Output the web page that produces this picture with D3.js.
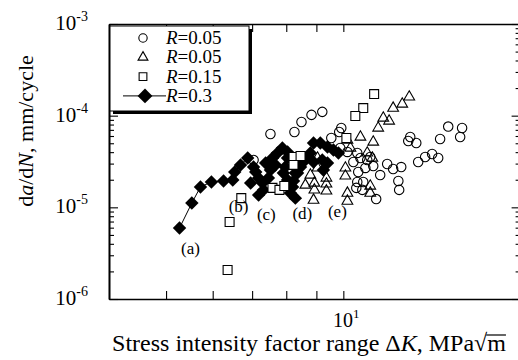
<!DOCTYPE html>
<html>
<head>
<meta charset="utf-8">
<script src="https://d3js.org/d3.v7.min.js"></script>
<style>
  body { margin: 0; background: #fff; }
  svg { display: block; }
  text { font-family: "Liberation Serif", "Times New Roman", serif; fill: #000; }
</style>
</head>
<body>
<script>
// R=0.05 (circles)
const circleK = [7.04, 7.52, 8.26, 8.49, 8.83, 9.21, 9.92, 9.84, 9.54, 9.88, 10.16, 10.56, 10.69, 10.40, 10.90,
  11.11, 10.60, 10.52, 10.56, 10.98, 11.24, 11.55, 11.87, 12.15, 12.54, 12.40, 12.44, 11.37, 10.77, 10.81,
  12.99, 12.89, 13.30, 15.07, 15.91, 15.79, 14.60, 13.40, 13.77, 14.15, 14.49];
const circleRate = [3.28e-5, 6.31e-5, 6.64e-5, 8.53e-5, 1.02e-4, 1.10e-4, 7.34e-5, 6.64e-5, 5.71e-5, 4.44e-5, 4.02e-5, 3.92e-5, 3.45e-5, 3.12e-5, 2.69e-5,
  3.54e-5, 2.43e-5, 1.63e-5, 1.89e-5, 3.28e-5, 2.82e-5, 2.25e-5, 2.97e-5, 2.62e-5, 2.75e-5, 1.94e-5, 1.55e-5, 1.23e-5, 1.55e-5, 1.89e-5,
  5.85e-5, 5.29e-5, 5.03e-5, 7.6e-5, 7.34e-5, 5.85e-5, 5.57e-5, 3.12e-5, 3.54e-5, 3.82e-5, 3.45e-5];

// R=0.05 (triangles)
const triK = [12.94, 12.59, 12.15, 11.69, 11.96, 11.46, 11.24, 10.69, 10.98, 11.20, 10.16, 10.08, 10.08, 10.28,
  9.04, 9.04, 8.79, 8.62, 8.93, 8.93, 8.90, 9.36, 9.36, 9.36, 10.16, 10.16, 11.11, 11.11];
const triRate = [1.60e-4, 1.34e-4, 1.21e-4, 9.43e-5, 8.75e-5, 7.34e-5, 5.16e-5, 5.85e-5, 3.92e-5, 3.45e-5, 5.43e-5, 2.69e-5, 2.20e-5, 4.44e-5,
  3.45e-5, 2.69e-5, 2.25e-5, 1.75e-5, 1.84e-5, 1.55e-5, 1.20e-5, 2.09e-5, 1.80e-5, 1.51e-5, 1.43e-5, 1.17e-5, 1.71e-5, 1.43e-5];

// R=0.15 (squares)
const sqK = [11.28, 10.81, 10.48, 10.12, 8.23, 8.23, 6.71, 6.41, 6.36, 7.58, 7.79, 7.94, 8.46];
const sqRate = [1.72e-4, 1.21e-4, 9.92e-5, 5.71e-5, 3.54e-5, 2.90e-5, 1.26e-5, 6.92e-6, 2.07e-6, 1.63e-5, 1.55e-5, 1.71e-5, 3.63e-5];

// R=0.3 (diamonds), first run joined by a line
const dmdLineK = [5.27, 5.53, 5.72, 5.97, 6.26, 6.49, 6.54, 6.69, 6.88];
const dmdLineRate = [5.95e-6, 1.115e-5, 1.67e-5, 1.89e-5, 1.94e-5, 1.99e-5, 2.43e-5, 2.90e-5, 3.45e-5];
const dmdK = [7.04, 7.10, 7.18, 7.29, 7.32, 7.18, 6.96, 7.38, 7.58, 7.73, 7.88, 8.04, 8.04, 7.97, 7.91, 8.04,
  8.20, 8.13, 8.29, 8.36, 8.36, 8.62, 8.46, 8.29, 8.79, 8.90, 9.14, 9.40, 9.62, 9.81, 8.90, 9.21, 9.40, 9.25,
  8.23, 7.52, 7.67, 7.46];
const dmdRate = [2.75e-5, 2.43e-5, 2.09e-5, 1.84e-5, 1.55e-5, 1.36e-5, 1.84e-5, 3.05e-5, 3.45e-5, 3.92e-5, 4.44e-5, 4.02e-5, 3.45e-5, 2.75e-5, 2.37e-5, 1.99e-5,
  1.67e-5, 1.43e-5, 1.26e-5, 2.90e-5, 2.37e-5, 3.28e-5, 2.75e-5, 2.37e-5, 3.92e-5, 5.03e-5, 5.03e-5, 4.55e-5, 4.22e-5, 3.92e-5, 3.12e-5, 3.28e-5, 3.05e-5, 2.55e-5,
  1.94e-5, 2.55e-5, 2.90e-5, 2.09e-5];

// annotations
const noteText = ["(a)", "(b)", "(c)", "(d)", "(e)"];
const noteK = [5.50, 6.64, 7.40, 8.52, 9.77];
const noteRate = [3.1e-6, 8.9e-6, 7.3e-6, 7.5e-6, 7.85e-6];

const xMinorTicks = [5, 6, 7, 8, 9, 10];
const yDecades = [1e-6, 1e-5, 1e-4, 1e-3];
const yExponents = ["-6", "-5", "-4", "-3"];
const legendLabels = ["0.05", "0.05", "0.15", "0.3"];

const width = 518, height = 360;
const svg = d3.select("body").append("svg").attr("width", width).attr("height", height);

const x = d3.scaleLog().domain([4, 20]).range([109, 520.6]);
const y = d3.scaleLog().domain([1e-6, 1e-3]).range([299, 24]);

const yMinor = [];
yDecades.slice(0, 3).forEach(d => { for (let m = 2; m <= 9; m++) yMinor.push(d * m); });

const zip = (a, b) => a.map((v, i) => [v, b[i]]);

// data marks
const g = svg.append("g");
g.selectAll("path.circ").data(zip(circleK, circleRate)).join("path")
  .attr("class", "circ")
  .attr("d", d3.symbol(d3.symbolCircle, 70))
  .attr("transform", d => `translate(${x(d[0])},${y(d[1])})`)
  .attr("fill", "none").attr("stroke", "#000").attr("stroke-width", 1.1);

g.selectAll("path.tri").data(zip(triK, triRate)).join("path")
  .attr("class", "tri")
  .attr("d", d3.symbol(d3.symbolTriangle, 50))
  .attr("transform", d => `translate(${x(d[0])},${y(d[1])})`)
  .attr("fill", "none").attr("stroke", "#000").attr("stroke-width", 1.1);

g.append("path")
  .datum(zip(dmdLineK, dmdLineRate))
  .attr("d", d3.line().x(d => x(d[0])).y(d => y(d[1])))
  .attr("fill", "none").attr("stroke", "#000").attr("stroke-width", 1);

const diamond = d3.symbol(d3.symbolSquare, 90);
g.selectAll("path.dmd").data(zip(dmdLineK, dmdLineRate).concat(zip(dmdK, dmdRate))).join("path")
  .attr("class", "dmd")
  .attr("d", diamond)
  .attr("transform", d => `translate(${x(d[0])},${y(d[1])}) rotate(45)`)
  .attr("fill", "#000");

g.selectAll("path.sq").data(zip(sqK, sqRate)).join("path")
  .attr("class", "sq")
  .attr("d", d3.symbol(d3.symbolSquare, 80))
  .attr("transform", d => `translate(${x(d[0])},${y(d[1])})`)
  .attr("fill", "#fff").attr("stroke", "#000").attr("stroke-width", 1.1);

g.selectAll("text.note").data(noteText).join("text")
  .attr("x", (d, i) => x(noteK[i])).attr("y", (d, i) => y(noteRate[i]))
  .attr("text-anchor", "middle").attr("font-size", 17).text(d => d);

// axes (ticks point inward)
function styleAxis(sel) {
  sel.select(".domain").attr("stroke", "#000").attr("stroke-width", 1.6);
  sel.selectAll(".tick line").attr("stroke", "#000").attr("stroke-width", 1.1);
  sel.selectAll(".tick text").remove();
}
svg.append("g").attr("transform", `translate(0,${y(1e-6)})`)
  .call(d3.axisBottom(x).tickValues(xMinorTicks).tickSize(-8).tickSizeOuter(0).tickFormat("")).call(styleAxis);
svg.append("g").attr("transform", `translate(0,${y(1e-3)})`)
  .call(d3.axisTop(x).tickValues(xMinorTicks).tickSize(-8).tickSizeOuter(0).tickFormat("")).call(styleAxis);
svg.append("g").attr("transform", `translate(${x(4)},0)`)
  .call(d3.axisLeft(y).tickValues(yMinor).tickSize(-5).tickSizeOuter(0).tickFormat("")).call(styleAxis);
svg.append("g").attr("transform", `translate(${x(4)},0)`)
  .call(d3.axisLeft(y).tickValues(yDecades).tickSize(-9).tickSizeOuter(0).tickFormat("")).call(styleAxis);
svg.append("g").attr("transform", `translate(${x(20)},0)`)
  .call(d3.axisRight(y).tickValues(yMinor).tickSize(-5).tickSizeOuter(0).tickFormat("")).call(styleAxis);
svg.append("g").attr("transform", `translate(${x(20)},0)`)
  .call(d3.axisRight(y).tickValues(yDecades).tickSize(-9).tickSizeOuter(0).tickFormat("")).call(styleAxis);

// y tick labels 10^n
yDecades.forEach((d, i) => {
  const t = svg.append("text").attr("x", 88).attr("y", y(d) + 6).attr("text-anchor", "end").attr("font-size", 21);
  t.append("tspan").text("10");
  t.append("tspan").attr("font-size", 14).attr("dy", -9).text(yExponents[i]);
});

// x tick label 10^1
const xt = svg.append("text").attr("x", x(10) + 3).attr("y", 327).attr("text-anchor", "middle").attr("font-size", 20);
xt.append("tspan").text("10");
xt.append("tspan").attr("font-size", 13).attr("dy", -9).text("1");

// axis titles
const yl = svg.append("text").attr("transform", "translate(33,131) rotate(-90)")
  .attr("text-anchor", "middle").attr("font-size", 22);
yl.append("tspan").text("d");
yl.append("tspan").attr("font-style", "italic").text("a");
yl.append("tspan").text("/d");
yl.append("tspan").attr("font-style", "italic").text("N");
yl.append("tspan").text(", mm/cycle");

const xl = svg.append("text").attr("x", 309).attr("y", 351)
  .attr("text-anchor", "middle").attr("font-size", 24);
xl.append("tspan").text("Stress intensity factor range \u0394");
xl.append("tspan").attr("font-style", "italic").text("K");
xl.append("tspan").text(", MPa\u221Am");
const xlNode = xl.node();
const nChars = xlNode.getNumberOfChars();
const rootBox = xlNode.getExtentOfChar(nChars - 2);
const mBox = xlNode.getExtentOfChar(nChars - 1);
svg.append("line")
  .attr("x1", rootBox.x + rootBox.width - 1).attr("x2", mBox.x + mBox.width)
  .attr("y1", rootBox.y + 5).attr("y2", rootBox.y + 5)
  .attr("stroke", "#000").attr("stroke-width", 1.2);

// legend with drop shadow
const lg = svg.append("g");
lg.append("rect").attr("x", 113).attr("y", 29).attr("width", 139).attr("height", 85).attr("fill", "#000");
lg.append("rect").attr("x", 110).attr("y", 26).attr("width", 139).attr("height", 85)
  .attr("fill", "#fff").attr("stroke", "#000").attr("stroke-width", 1);
const legendSymbols = [d3.symbolCircle, d3.symbolTriangle, d3.symbolSquare];
legendLabels.forEach((lab, i) => {
  const cy = 38 + i * 19.3;
  if (i < 3) {
    lg.append("path").attr("d", d3.symbol(legendSymbols[i], i === 0 ? 55 : i === 1 ? 42 : 60))
      .attr("transform", `translate(143,${cy})`)
      .attr("fill", "none").attr("stroke", "#000").attr("stroke-width", 1.1);
  } else {
    lg.append("line").attr("x1", 123).attr("x2", 166).attr("y1", cy).attr("y2", cy)
      .attr("stroke", "#000").attr("stroke-width", 1);
    lg.append("path").attr("d", d3.symbol(d3.symbolSquare, 110))
      .attr("transform", `translate(145,${cy}) rotate(45)`).attr("fill", "#000");
  }
  const t = lg.append("text").attr("x", 166).attr("y", cy + 6).attr("font-size", 19);
  t.append("tspan").attr("font-style", "italic").text("R");
  t.append("tspan").text("=" + lab);
});
</script>
</body>
</html>
